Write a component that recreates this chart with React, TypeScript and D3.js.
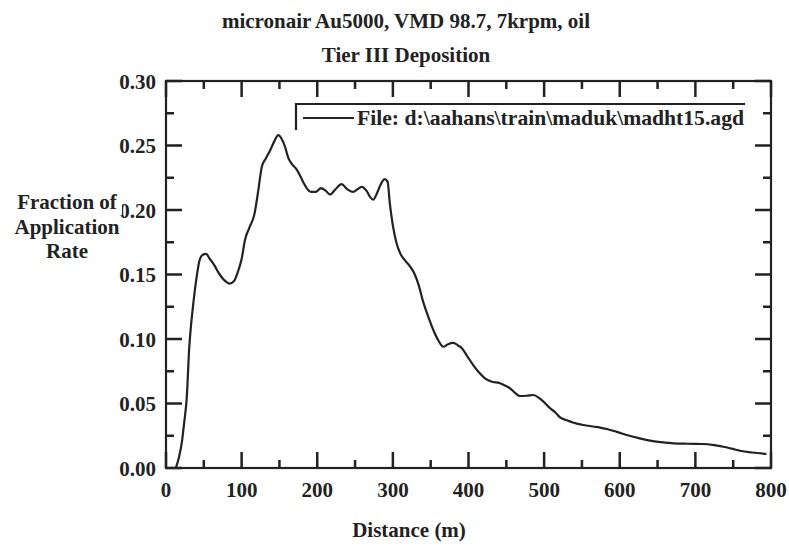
import React from "react";
import * as d3 from "d3";

const distance = [13, 17, 21, 24, 27.4, 30.8, 33, 36, 40.5, 44, 48, 53, 58, 63, 71, 78, 84, 90, 95, 100, 104.5, 110, 117, 122, 126.5, 132, 137.5, 143, 148.5, 153, 157.4, 162, 166, 172, 177, 182, 186, 192, 198, 205, 211, 217, 224, 232, 240, 247.7, 253, 259, 265, 270, 274, 279, 284, 289, 293, 296, 300, 305, 310, 316, 323, 329, 334, 340, 347, 353.5, 360, 366.7, 373, 380, 386, 391, 398, 406, 414, 421.8, 430, 441.6, 448, 455, 462, 468, 477, 485.7, 494, 500, 508, 515, 521, 530, 539, 552, 567, 583, 596, 609, 625, 640, 655, 671, 690, 710, 725, 737, 748, 759, 775, 794];
const fraction = [0, 0.008, 0.02, 0.035, 0.054, 0.094, 0.11, 0.127, 0.148, 0.16, 0.165, 0.166, 0.162, 0.158, 0.15, 0.145, 0.143, 0.145, 0.152, 0.162, 0.177, 0.186, 0.197, 0.215, 0.233, 0.24, 0.246, 0.253, 0.258, 0.255, 0.249, 0.24, 0.236, 0.232, 0.227, 0.221, 0.217, 0.214, 0.214, 0.217, 0.215, 0.212, 0.216, 0.22, 0.216, 0.214, 0.216, 0.218, 0.215, 0.21, 0.208, 0.213, 0.22, 0.224, 0.222, 0.205, 0.188, 0.174, 0.166, 0.161, 0.156, 0.15, 0.142, 0.129, 0.117, 0.107, 0.099, 0.094, 0.096, 0.097, 0.095, 0.093, 0.087, 0.08, 0.074, 0.0695, 0.067, 0.0657, 0.064, 0.0618, 0.058, 0.0558, 0.056, 0.0566, 0.054, 0.051, 0.0463, 0.043, 0.0393, 0.037, 0.0351, 0.0333, 0.032, 0.0302, 0.028, 0.0256, 0.0232, 0.0212, 0.02, 0.0191, 0.0188, 0.0186, 0.0177, 0.0165, 0.015, 0.0134, 0.012, 0.0109];

const xTicks = [0, 100, 200, 300, 400, 500, 600, 700, 800];
const xMinor = [50, 150, 250, 350, 450, 550, 650, 750];
const yTicks = [0, 0.05, 0.1, 0.15, 0.2, 0.25, 0.3];
const yMinor = [0.025, 0.075, 0.125, 0.175, 0.225, 0.275];

const titleLines = ["micronair Au5000, VMD 98.7, 7krpm, oil", "Tier III Deposition"];
const yLabelLines = ["Fraction of", "Application", "Rate"];
const xLabel = "Distance (m)";
const legendText = "File: d:\\aahans\\train\\maduk\\madht15.agd";

export default function App() {
  const W = 789, H = 546;
  const left = 166, right = 771, top = 81, bottom = 468;
  const x = d3.scaleLinear().domain([0, 800]).range([left, right]);
  const y = d3.scaleLinear().domain([0, 0.3]).range([bottom, top]);
  const pts = distance.map((d, i) => [d, fraction[i]] as [number, number]);
  const line = d3.line<[number, number]>().x(d => x(d[0])).y(d => y(d[1])).curve(d3.curveMonotoneX);
  const font = "'Liberation Serif', 'Times New Roman', serif";
  const ink = "#222";
  const MAJ = 16, MIN = 8;

  const tp = d3.path();
  const addX = (t: number, len: number) => {
    tp.moveTo(x(t), bottom); tp.lineTo(x(t), bottom - len);
    tp.moveTo(x(t), top); tp.lineTo(x(t), top + len);
  };
  const addY = (t: number, len: number) => {
    tp.moveTo(left, y(t)); tp.lineTo(left + len, y(t));
    tp.moveTo(right, y(t)); tp.lineTo(right - len, y(t));
  };
  xTicks.forEach(t => addX(t, MAJ));
  xMinor.forEach(t => addX(t, MIN));
  yTicks.forEach(t => addY(t, MAJ));
  yMinor.forEach(t => addY(t, MIN));

  return (
    <svg width={W} height={H} style={{ position: "absolute", left: 0, top: 0, background: "#fff" }} fontFamily={font} fontWeight="bold">
      <rect x={0} y={0} width={W} height={H} fill="#fff" />
      <text x={406} y={28} textAnchor="middle" fontSize={21} fill={ink}>{titleLines[0]}</text>
      <text x={406} y={62} textAnchor="middle" fontSize={21} fill={ink}>{titleLines[1]}</text>

      <rect x={left} y={top} width={right - left} height={bottom - top} fill="none" stroke={ink} strokeWidth={2.2} />
      <path d={tp.toString()} fill="none" stroke={ink} strokeWidth={2.5} />

      {xTicks.map(t => (
        <text key={"xl" + t} x={x(t)} y={bottom + 29} textAnchor="middle" fontSize={21} fill={ink}>{t}</text>
      ))}
      {yTicks.map(t => (
        <text key={"yl" + t} x={156} y={y(t) + 7.5} textAnchor="end" fontSize={21} fill={ink}>{t.toFixed(2)}</text>
      ))}

      <rect x={8} y={191} width={114} height={24} fill="#fff" />
      {yLabelLines.map((s, i) => (
        <text key={s} x={67} y={209 + i * 24.5} textAnchor="middle" fontSize={21} fill={ink}>{s}</text>
      ))}

      <text x={409} y={537} textAnchor="middle" fontSize={21} fill={ink}>{xLabel}</text>

      <path d={`M296,130V104H745`} fill="none" stroke={ink} strokeWidth={2.2} />
      <path d={`M303,118H354`} fill="none" stroke={ink} strokeWidth={2} />
      <text x={357} y={125} fontSize={21} fill={ink} textLength={387} lengthAdjust="spacingAndGlyphs">{legendText}</text>

      <path d={line(pts) || ""} fill="none" stroke={ink} strokeWidth={2.2} strokeLinejoin="round" />
    </svg>
  );
}
